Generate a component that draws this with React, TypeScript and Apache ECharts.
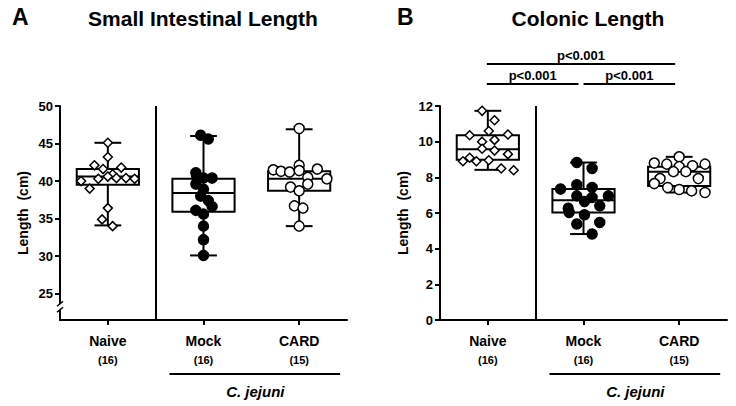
import React, { useEffect, useRef } from "react";
import * as echarts from "echarts";

const FONT = "'Liberation Sans', Arial, Helvetica, sans-serif";

// ---- categories / labels ----
const categories = ["Naive", "Mock", "CARD"];
const groupSizes = ["(16)", "(16)", "(15)"];
const siTicks = [25, 30, 35, 40, 45, 50];
const colTicks = [0, 2, 4, 6, 8, 10, 12];

// ---- Panel A: small intestinal length (cm) ----
const siNaive = [45.1, 43.2, 42.1, 41.6, 41.8, 40.9, 40.6, 40.3, 40.4, 40.4, 40.3, 40.0, 39.0, 36.4, 34.9, 34.0];
const siNaiveJitter = [0, 0, -0.14, -0.05, 0.14, 0.05, 0, -0.1, 0.09, 0.19, 0.28, -0.28, -0.19, 0, -0.06, 0.05];
const siMock = [46.1, 45.6, 41.1, 40.6, 40.4, 40.4, 39.6, 38.9, 38.0, 37.4, 36.6, 36.1, 35.6, 34.0, 32.2, 30.1];
const siMockJitter = [-0.03, 0.05, -0.08, -0.07, 0, 0.09, -0.08, 0, -0.03, 0.05, 0.09, -0.08, 0, 0, 0, 0];
const siCard = [47.0, 42.1, 41.5, 41.3, 41.2, 41.4, 41.6, 40.5, 40.3, 39.6, 39.2, 38.7, 36.7, 36.4, 34.0];
const siCardJitter = [0, 0, -0.27, -0.19, -0.1, 0, 0.19, 0.09, 0.29, 0.09, -0.09, 0, -0.05, 0.04, 0];
// [min, q1, median, q3, max]
const siBoxes = [
  [34.1, 39.5, 40.6, 41.6, 45.1],
  [30.1, 35.9, 38.4, 40.3, 46.0],
  [34.0, 38.7, 40.3, 41.3, 46.9],
];

// ---- Panel B: colonic length (cm) ----
const colNaive = [11.73, 11.2, 10.6, 10.36, 10.4, 10.0, 10.1, 9.6, 9.5, 9.3, 9.1, 8.9, 8.9, 8.96, 8.5, 8.4];
const colNaiveJitter = [-0.06, 0.07, 0.01, -0.19, 0.21, -0.06, 0.07, -0.06, 0.07, 0.21, -0.19, -0.26, -0.12, 0.01, 0.14, 0.27];
const colMock = [8.83, 8.5, 7.34, 7.58, 7.43, 6.96, 6.96, 6.87, 6.64, 6.4, 6.27, 6.03, 5.9, 5.38, 5.47, 4.82];
const colMockJitter = [-0.07, 0.09, -0.24, -0.07, 0.09, 0.26, -0.07, 0.09, 0.01, 0.17, -0.16, -0.15, 0.01, -0.07, 0.17, 0.09];
const colCard = [9.15, 8.8, 8.74, 8.6, 8.65, 8.74, 8.32, 8.32, 7.93, 7.93, 7.65, 7.43, 7.32, 7.24, 7.15];
const colCardJitter = [0, -0.26, -0.13, 0, 0.14, 0.27, -0.06, 0.07, -0.2, 0.2, -0.26, -0.12, 0, 0.13, 0.27];
const colBoxes = [
  [8.42, 8.98, 9.58, 10.36, 11.73],
  [4.82, 6.03, 6.72, 7.34, 8.83],
  [7.15, 7.52, 8.32, 8.6, 9.15],
];

const pValue = "p<0.001";

function pts(vals: number[], jit: number[], cat: number) {
  return vals.map((v, i) => [cat + jit[i], v]);
}

function renderBox(params: any, api: any) {
  const i = api.value(0);
  const mn = api.value(1), q1 = api.value(2), md = api.value(3), q3 = api.value(4), mx = api.value(5);
  const hw = 0.325, cw = 0.14;
  const p = (x: number, y: number) => api.coord([x, y]);
  const tl = p(i - hw, q3), br = p(i + hw, q1);
  const ls = { stroke: "#000", lineWidth: 2 };
  const line = (a: number[], b: number[]) => ({
    type: "line",
    shape: { x1: a[0], y1: a[1], x2: b[0], y2: b[1] },
    style: ls,
  });
  return {
    type: "group",
    children: [
      line(p(i, q3), p(i, mx)),
      line(p(i, q1), p(i, mn)),
      line(p(i - cw, mx), p(i + cw, mx)),
      line(p(i - cw, mn), p(i + cw, mn)),
      {
        type: "rect",
        shape: { x: tl[0], y: tl[1], width: br[0] - tl[0], height: br[1] - tl[1] },
        style: { fill: "#fff", stroke: "#000", lineWidth: 2 },
      },
      line(p(i - hw, md), p(i + hw, md)),
    ],
  };
}

const axisLineStyle = { onZero: false, lineStyle: { color: "#000", width: 2 } };

function catAxis(grid: number) {
  return {
    type: "category",
    gridIndex: grid,
    data: categories,
    axisLine: axisLineStyle,
    axisTick: { show: true, alignWithLabel: true, length: 5, lineStyle: { color: "#000", width: 2 } },
    axisLabel: {
      margin: 12,
      formatter: (v: string, idx: number) => `{a|${v}}\n{b|${groupSizes[idx]}}`,
      rich: {
        a: { fontFamily: FONT, fontWeight: "bold", fontSize: 14, color: "#000", lineHeight: 17 },
        b: { fontFamily: FONT, fontWeight: "bold", fontSize: 11, color: "#000", lineHeight: 21 },
      },
    },
    splitLine: { show: false },
  };
}

function valXAxis(grid: number) {
  return { type: "value", gridIndex: grid, min: -0.5, max: 2.5, show: false, axisLine: { onZero: false }, splitLine: { show: false } };
}

function scatter(data: number[][], xi: number, yi: number, symbol: string, filled: boolean, size: number) {
  return {
    type: "scatter",
    xAxisIndex: xi,
    yAxisIndex: yi,
    data,
    symbol,
    symbolSize: size,
    z: 5,
    itemStyle: { color: filled ? "#000" : "#fff", borderColor: "#000", borderWidth: 1.5, opacity: 1 },
    silent: true,
  };
}

const sepLine = {
  symbol: "none",
  silent: true,
  label: { show: false },
  lineStyle: { color: "#000", width: 2, type: "solid" },
  data: [{ xAxis: 0.5 }],
};

export default function App() {
  const ref = useRef<HTMLDivElement>(null);
  useEffect(() => {
    if (!ref.current) return;
    const chart = echarts.init(ref.current, undefined, { renderer: "svg" });
    const yLabel = { fontFamily: FONT, fontWeight: "bold", fontSize: 13, color: "#000", margin: 7 };
    const yName = { fontFamily: FONT, fontWeight: "bold", fontSize: 14, color: "#000" };
    const yTick = { show: true, length: 5, lineStyle: { color: "#000", width: 2 } };
    chart.setOption({
      animation: false,
      textStyle: { fontFamily: FONT },
      grid: [
        { left: 60, top: 106, width: 287, height: 214 },
        { left: 440, top: 106, width: 287, height: 214 },
      ],
      xAxis: [catAxis(0), valXAxis(0), catAxis(1), valXAxis(1)],
      yAxis: [
        {
          type: "value",
          gridIndex: 0,
          min: 21.5,
          max: 50,
          name: "Length  (cm)",
          nameLocation: "middle",
          nameGap: 30,
          nameTextStyle: yName,
          axisLine: { show: true, ...axisLineStyle },
          axisTick: { ...yTick, customValues: siTicks },
          axisLabel: { ...yLabel, customValues: siTicks },
          splitLine: { show: false },
        },
        {
          type: "value",
          gridIndex: 1,
          min: 0,
          max: 12,
          interval: 2,
          name: "Length  (cm)",
          nameLocation: "middle",
          nameGap: 30,
          nameTextStyle: yName,
          axisLine: { show: true, ...axisLineStyle },
          axisTick: { ...yTick, customValues: colTicks },
          axisLabel: { ...yLabel, customValues: colTicks },
          splitLine: { show: false },
        },
      ],
      series: [
        {
          type: "custom",
          xAxisIndex: 1,
          yAxisIndex: 0,
          renderItem: renderBox,
          data: siBoxes.map((b, i) => [i, ...b]),
          encode: { x: 0, y: [1, 2, 3, 4, 5] },
          z: 2,
          silent: true,
        },
        {
          type: "custom",
          xAxisIndex: 3,
          yAxisIndex: 1,
          renderItem: renderBox,
          data: colBoxes.map((b, i) => [i, ...b]),
          encode: { x: 0, y: [1, 2, 3, 4, 5] },
          z: 2,
          silent: true,
        },
        { ...scatter(pts(siNaive, siNaiveJitter, 0), 1, 0, "diamond", false, 9), markLine: sepLine },
        scatter(pts(siMock, siMockJitter, 1), 1, 0, "circle", true, 10),
        scatter(pts(siCard, siCardJitter, 2), 1, 0, "circle", false, 10),
        { ...scatter(pts(colNaive, colNaiveJitter, 0), 3, 1, "diamond", false, 9), markLine: sepLine },
        scatter(pts(colMock, colMockJitter, 1), 3, 1, "circle", true, 10),
        scatter(pts(colCard, colCardJitter, 2), 3, 1, "circle", false, 10),
      ],
    });

    const cx = (axis: number, i: number) => chart.convertToPixel({ xAxisIndex: axis }, i) as number;
    const graphics: any[] = [];
    const titleFont = { fontFamily: FONT, fontWeight: "bold", fill: "#000" };
    graphics.push(
      { type: "text", left: 12, top: 5, style: { ...titleFont, text: "A", fontSize: 23 } },
      { type: "text", x: 203, y: 18, style: { ...titleFont, text: "Small Intestinal Length", fontSize: 21, align: "center", verticalAlign: "middle" } },
      { type: "text", left: 397, top: 5, style: { ...titleFont, text: "B", fontSize: 23 } },
      { type: "text", x: 588, y: 18, style: { ...titleFont, text: "Colonic Length", fontSize: 21, align: "center", verticalAlign: "middle" } }
    );

    // C. jejuni brackets
    [1, 3].forEach((ax) => {
      const c1 = cx(ax, 1), c2 = cx(ax, 2);
      graphics.push(
        { type: "line", shape: { x1: c1 - 34, y1: 374, x2: c2 + 41, y2: 374 }, style: { stroke: "#000", lineWidth: 2 } },
        {
          type: "text",
          x: (c1 + c2) / 2 + 4,
          y: 391,
          style: { text: "C. jejuni", fontFamily: FONT, fontWeight: "bold", fontStyle: "italic", fontSize: 15, fill: "#000", align: "center", verticalAlign: "middle" },
        }
      );
    });

    // significance bars in panel B
    const b0 = cx(3, 0), b1 = cx(3, 1), b2 = cx(3, 2);
    const sig = (x1: number, x2: number, y: number) => {
      graphics.push(
        { type: "line", shape: { x1, y1: y, x2, y2: y }, style: { stroke: "#000", lineWidth: 2 } },
        {
          type: "text",
          x: (x1 + x2) / 2,
          y: y - 2,
          style: { text: pValue, fontFamily: FONT, fontWeight: "bold", fontSize: 13, fill: "#000", align: "center", verticalAlign: "bottom" },
        }
      );
    };
    sig(b0 - 1, b2 - 4, 64);
    sig(b0 - 1, b1 - 5, 84);
    sig(b1, b2 - 4, 84);

    // axis break on panel A y axis
    const ax0 = chart.convertToPixel({ xAxisIndex: 1 }, -0.5) as number;
    const yb = chart.convertToPixel({ yAxisIndex: 0 }, 23.2) as number;
    graphics.push(
      { type: "rect", shape: { x: ax0 - 4, y: yb - 3, width: 8, height: 6 }, style: { fill: "#fff" }, z: 100 },
      { type: "line", shape: { x1: ax0 - 3, y1: yb - 1, x2: ax0 + 3, y2: yb - 6 }, style: { stroke: "#000", lineWidth: 1.5 }, z: 101 },
      { type: "line", shape: { x1: ax0 - 3, y1: yb + 5, x2: ax0 + 3, y2: yb }, style: { stroke: "#000", lineWidth: 1.5 }, z: 101 }
    );

    chart.setOption({ graphic: graphics });
    return () => chart.dispose();
  }, []);
  return <div ref={ref} style={{ position: "fixed", left: 0, top: 0, width: 736, height: 406, background: "#fff" }} />;
}
